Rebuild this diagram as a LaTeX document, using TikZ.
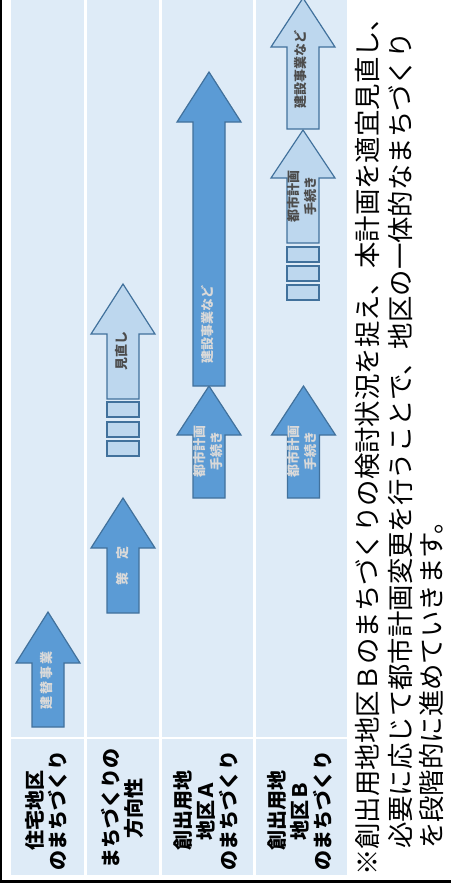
\documentclass[tikz,border=0pt]{standalone}
\usepackage{fontspec}
\setmainfont{Noto Sans CJK JP}
\usetikzlibrary{calc}
\definecolor{cellblue}{RGB}{222,235,247}
\definecolor{darkfill}{RGB}{91,155,213}
\definecolor{lightfill}{RGB}{189,215,238}
\definecolor{arrline}{RGB}{65,113,156}
\tikzstyle{cell}=[fill=cellblue,draw=none]
\tikzstyle{darkarrow}=[fill=darkfill,draw=arrline,line width=1.2pt]
\tikzstyle{lightarrow}=[fill=lightfill,draw=arrline,line width=1.2pt]
\tikzstyle{stepbox}=[fill=lightfill,draw=arrline,line width=1.6pt]
\tikzstyle{header}=[rotate=90,align=center,inner sep=0pt,font=\bfseries\fontsize{20}{23}\selectfont]
\tikzstyle{darklabel}=[rotate=90,align=center,inner sep=0pt,text=white!85!black,font=\bfseries\fontsize{13}{17}\selectfont]
\tikzstyle{lightlabel}=[rotate=90,align=center,inner sep=0pt,text=black!70,font=\bfseries\fontsize{13}{17}\selectfont]
\tikzstyle{note}=[rotate=90,anchor=west,inner sep=0pt,font=\fontsize{26.4}{30}\selectfont]
% block arrow: style, x, bottom, head base, tip
\newcommand{\blockarrow}[5]{%
  \path[#1] (#2-16,#3) -- (#2-16,#4) -- (#2-32,#4) -- (#2,#5) -- (#2+32,#4) -- (#2+16,#4) -- (#2+16,#3) -- cycle;}

\begin{document}
\begin{tikzpicture}[x=1pt,y=-1pt]
\useasboundingbox (0,0) rectangle (451,884);

% frame
\draw[line width=2.5pt] (1,0) -- (1,881.5) -- (451,881.5);

% table cells
\foreach \xa/\xb in {11/84, 87/159, 162/253, 256/347} {
    \path[cell] (\xa,0) rectangle (\xb,737);
    \path[cell] (\xa,739) rectangle (\xb,875);
}

% headers
\node[header] (h1) at (46.5,810) {住宅地区\\のまちづくり};
\node[header] (h2) at (122,808) {まちづくりの\\方向性};
\node[header] (h3) at (206,810) {創出用地\\地区Ａ\\のまちづくり};
\node[header] (h4) at (300,810) {創出用地\\地区Ｂ\\のまちづくり};

% column 1
\blockarrow{darkarrow}{48}{727}{663}{612}
\node[darklabel] (c1) at (47,680) {建\hspace{2pt}替\hspace{2pt}事\hspace{2pt}業};

% column 2
\blockarrow{darkarrow}{123}{613}{548}{498}
\node[darklabel] (c2a) at (123,566) {策　定};
\foreach \y in {402,422,441}
    \path[stepbox] (107,\y) rectangle (139,\y+15);
\blockarrow{lightarrow}{123}{399}{334}{284}
\node[lightlabel] (c2b) at (122,351) {見直し};

% column 3
\blockarrow{darkarrow}{209}{498}{435}{386}
\node[darklabel] (c3a) at (208,451) {都市計画\\手続き};
\blockarrow{darkarrow}{209}{386}{122}{72}
\node[darklabel] (c3b) at (208,324) {建設事業など};

% column 4
\blockarrow{darkarrow}{303.5}{498}{435}{386}
\node[darklabel] (c4a) at (302,451) {都市計画\\手続き};
\foreach \y in {247,266,285}
    \path[stepbox] (287,\y) rectangle (319,\y+15);
\blockarrow{lightarrow}{303}{243}{178}{130}
\node[lightlabel] (c4b) at (302,196) {都市計画\\手続き};
\blockarrow{lightarrow}{303}{129}{47}{-2}
\node[lightlabel] (c4c) at (301,69) {建設事業など};

% note
\node[note] (n1) at (367,876) {{\bfseries ※}創出用地地区Ｂのまちづくりの検討状況を捉え、本計画を適宜見直し、};
\node[note] (n2) at (400,849) {必要に応じて都市計画変更を行うことで、地区の一体的なまちづくり};
\node[note] (n3) at (431,849) {を段階的に進めていきます。};

\end{tikzpicture}
\end{document}
